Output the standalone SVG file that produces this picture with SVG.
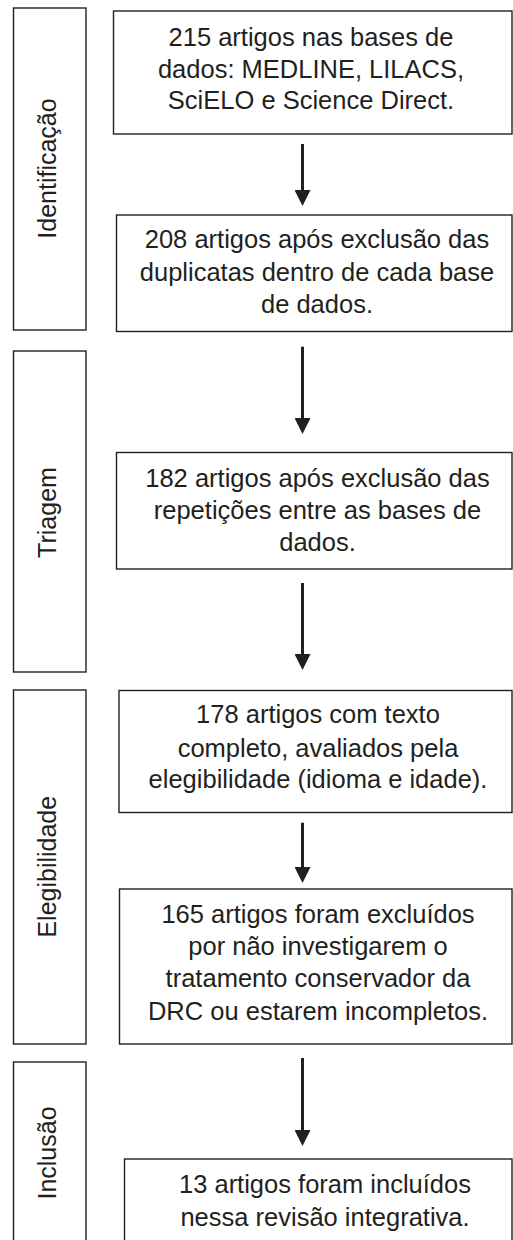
<svg xmlns="http://www.w3.org/2000/svg" width="513" height="1240" viewBox="0 0 513 1240">
<style>
.box{fill:#fff;stroke:#231f20;stroke-width:1.4}
.t{font-family:"Liberation Sans",Arial,sans-serif;font-size:25.5px;fill:#231f20;text-anchor:middle}
.v{font-family:"Liberation Sans",Arial,sans-serif;font-size:25px;fill:#231f20;text-anchor:middle}
.arr{stroke:#231f20;stroke-width:3;fill:none}
</style>
<defs>
<marker id="ah" viewBox="0 0 16 16" refX="2" refY="8" markerWidth="16" markerHeight="16" markerUnits="userSpaceOnUse" orient="auto">
<path d="M0,0 L16,8 L0,16 Z" fill="#231f20"/>
</marker>
</defs>
<rect width="513" height="1240" fill="#fff"/>
<g id="stage-identificacao">
<rect class="box" x="13.5" y="8" width="72.5" height="322"/>
<text class="v" transform="translate(55.5,168.5) rotate(-90)">Identificação</text>
</g>
<g id="stage-triagem">
<rect class="box" x="13.5" y="351" width="72.5" height="321"/>
<text class="v" transform="translate(55.5,512.5) rotate(-90)">Triagem</text>
</g>
<g id="stage-elegibilidade">
<rect class="box" x="13.5" y="690" width="72.5" height="354"/>
<text class="v" transform="translate(55.5,866.7) rotate(-90)">Elegibilidade</text>
</g>
<g id="stage-inclusao">
<rect class="box" x="13.5" y="1062" width="72.5" height="200"/>
<text class="v" transform="translate(55.5,1153) rotate(-90)">Inclusão</text>
</g>
<g id="n1">
<rect class="box" x="113.5" y="11" width="398.5" height="123"/>
<text class="t" x="311" y="46">215 artigos nas bases de</text>
<text class="t" x="311" y="77.5">dados: MEDLINE, LILACS,</text>
<text class="t" x="311" y="109">SciELO e Science Direct.</text>
</g>
<g id="n2">
<rect class="box" x="116.5" y="215" width="395.5" height="116.5"/>
<text class="t" x="317" y="248.3">208 artigos após exclusão das</text>
<text class="t" x="317" y="281">duplicatas dentro de cada base</text>
<text class="t" x="317" y="313.3">de dados.</text>
</g>
<g id="n3">
<rect class="box" x="116.5" y="452.5" width="395.5" height="116.5"/>
<text class="t" x="317.5" y="486.7">182 artigos após exclusão das</text>
<text class="t" x="317.5" y="519">repetições entre as bases de</text>
<text class="t" x="317.5" y="551">dados.</text>
</g>
<g id="n4">
<rect class="box" x="119" y="690.5" width="393" height="122"/>
<text class="t" x="318" y="723.3">178 artigos com texto</text>
<text class="t" x="318" y="756.7">completo, avaliados pela</text>
<text class="t" x="318" y="788.3">elegibilidade (idioma e idade).</text>
</g>
<g id="n5">
<rect class="box" x="119.5" y="889" width="392.5" height="155"/>
<text class="t" x="318" y="922.7">165 artigos foram excluídos</text>
<text class="t" x="318" y="955">por não investigarem o</text>
<text class="t" x="318" y="987.3">tratamento conservador da</text>
<text class="t" x="318" y="1020">DRC ou estarem incompletos.</text>
</g>
<g id="n6">
<rect class="box" x="124.5" y="1159" width="387.5" height="100"/>
<text class="t" x="325" y="1193">13 artigos foram incluídos</text>
<text class="t" x="325" y="1226">nessa revisão integrativa.</text>
</g>
<g id="connectors">
<line class="arr" x1="302.5" y1="144" x2="302.5" y2="192" marker-end="url(#ah)"/>
<line class="arr" x1="302.5" y1="346.7" x2="302.5" y2="420" marker-end="url(#ah)"/>
<line class="arr" x1="302.5" y1="583" x2="302.5" y2="656" marker-end="url(#ah)"/>
<line class="arr" x1="302.5" y1="822.7" x2="302.5" y2="869" marker-end="url(#ah)"/>
<line class="arr" x1="302.5" y1="1058" x2="302.5" y2="1132" marker-end="url(#ah)"/>
</g>
</svg>
